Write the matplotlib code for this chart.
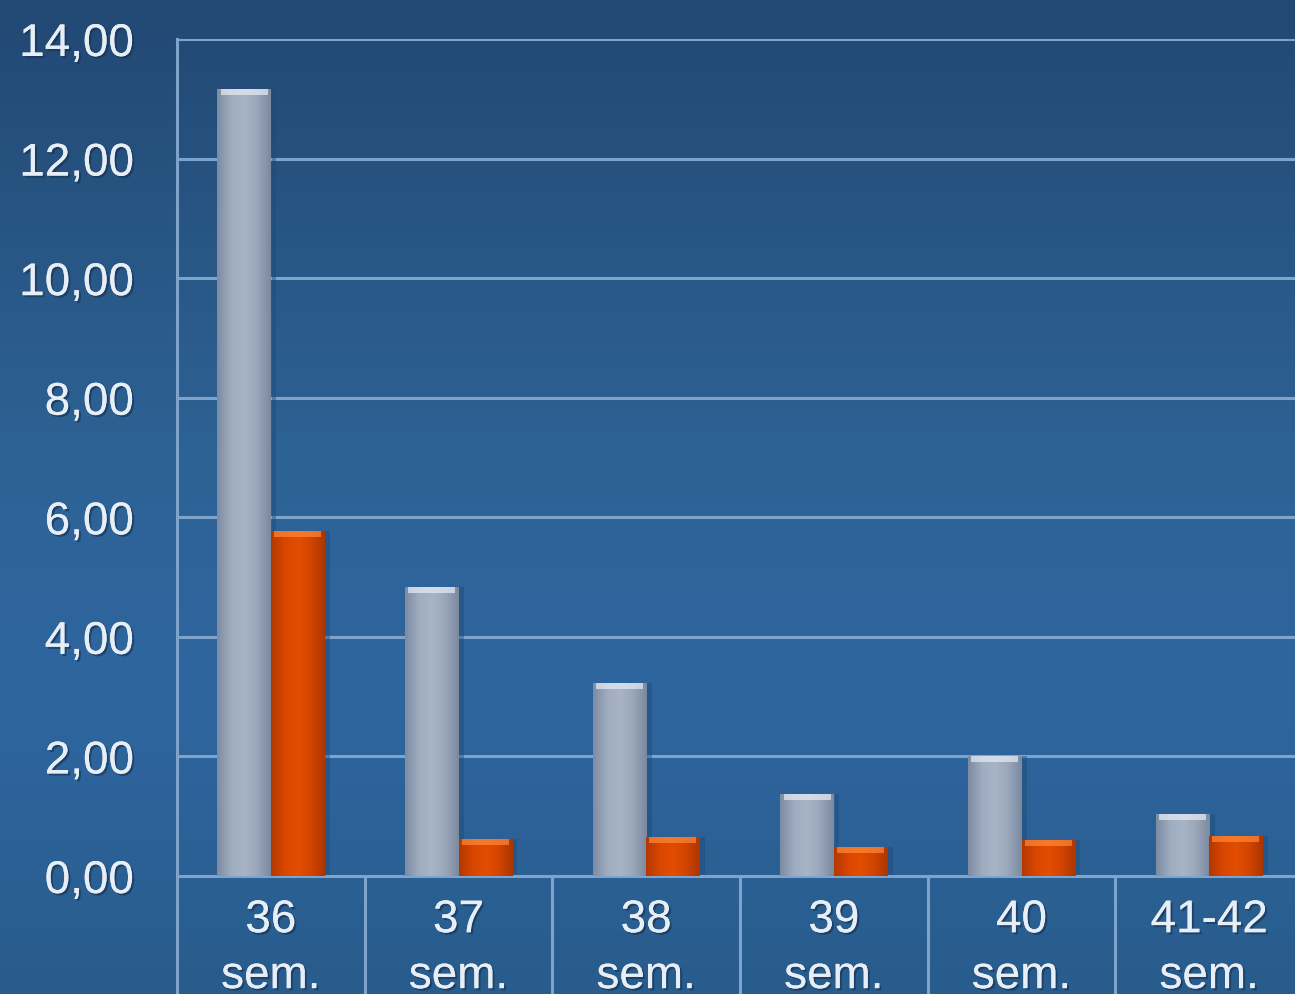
import numpy as np
import matplotlib
matplotlib.use("Agg")
import matplotlib.pyplot as plt
from matplotlib.colors import LinearSegmentedColormap
import matplotlib.patheffects as pe

# Data
categories = ["36\nsem.", "37\nsem.", "38\nsem.", "39\nsem.", "40\nsem.", "41-42\nsem."]
series_gray = [13.17, 4.83, 3.23, 1.37, 2.01, 1.04]
series_orange = [5.77, 0.62, 0.65, 0.49, 0.60, 0.67]
y_ticks = [0, 2, 4, 6, 8, 10, 12, 14]
y_tick_labels = ["0,00", "2,00", "4,00", "6,00", "8,00", "10,00", "12,00", "14,00"]

plt.rcParams['font.family'] = ['Liberation Sans', 'DejaVu Sans']

W, H = 1295, 995
fig = plt.figure(figsize=(W / 100, H / 100), dpi=100)

# Background: vertical blue gradient
bg = fig.add_axes([0, 0, 1, 1], zorder=-10)
bg_cmap = LinearSegmentedColormap.from_list(
    "bg", [(0.0, "#224873"), (0.45, "#2d6294"), (0.7, "#2f66a0"), (1.0, "#285c8c")])
grad = np.linspace(0, 1, 256).reshape(-1, 1)
bg.imshow(grad, cmap=bg_cmap, aspect="auto", extent=[0, 1, 0, 1], origin="upper")
bg.set_axis_off()

# Plot area (extends slightly past the right edge)
left_px, right_px, top_px, bottom_px = 177, 1303, 40, 877
ax = fig.add_axes([left_px / W, 1 - bottom_px / H,
                   (right_px - left_px) / W, (bottom_px - top_px) / H])
ax.patch.set_alpha(0)

n = len(categories)
x = np.arange(n)
bw = 0.285

grid_color = "#7ea4cc"
for yv in y_ticks[1:]:
    ax.axhline(yv, color=grid_color, lw=2.2, zorder=1)

gray_cmap = LinearSegmentedColormap.from_list(
    "g", ["#7d8ca3", "#9eacc0", "#a9b5c6", "#9aa7bb", "#7c8aa0"])
orange_cmap = LinearSegmentedColormap.from_list(
    "o", ["#b43800", "#d94600", "#e24e00", "#d24400", "#ac3600"])
hgrad = np.linspace(0, 1, 64).reshape(1, -1)


def gradient_bars(xs, heights, offset, cmap, top_color):
    bars = ax.bar(xs + offset, heights, width=bw, align="edge",
                  color="none", edgecolor="none", zorder=3)
    for rect in bars:
        x0, y0 = rect.get_x(), rect.get_y()
        w, h = rect.get_width(), rect.get_height()
        # soft shadow to the right
        ax.bar(x0 + w + 0.004, h, width=0.025, bottom=y0, align="edge",
               color="#1e4a78", alpha=0.45, zorder=2, edgecolor="none")
        im = ax.imshow(hgrad, cmap=cmap, aspect="auto",
                       extent=[x0, x0 + w, y0, y0 + h], zorder=3,
                       interpolation="bicubic")
        im.set_clip_path(rect)
        # bright rim at the top of the bar
        cap = min(0.1, h * 0.5)
        ax.bar(x0 + w * 0.06, cap, width=w * 0.88, bottom=y0 + h - cap,
               align="edge", color=top_color, alpha=0.7, zorder=4,
               edgecolor="none")
    return bars


gradient_bars(x, series_gray, -bw, gray_cmap, "#e6edf5")
gradient_bars(x, series_orange, 0.0, orange_cmap, "#ff8a3a")
ax.set_xlim(-0.5, n - 0.5)
ax.set_ylim(0, 14)

# Spines
for s in ["top", "right"]:
    ax.spines[s].set_visible(False)
ax.spines["left"].set_color(grid_color)
ax.spines["left"].set_linewidth(2.2)
ax.spines["bottom"].set_color(grid_color)
ax.spines["bottom"].set_linewidth(2.2)

text_color = "#e8eef6"
shadow = [pe.withSimplePatchShadow(offset=(1.5, -1.5), shadow_rgbFace="#143050", alpha=0.6),
          pe.Normal()]

ax.set_yticks(y_ticks)
ax.set_yticklabels(y_tick_labels)
ax.tick_params(axis="y", length=0, pad=31, labelsize=33, labelcolor=text_color)

ax.set_xticks(x)
ax.set_xticklabels(categories, linespacing=1.35)
ax.tick_params(axis="x", which="major", length=0, pad=16, labelsize=33,
               labelcolor=text_color)
ax.set_xticks(np.arange(-0.5, n, 1.0), minor=True)
ax.tick_params(axis="x", which="minor", length=90, width=2.2, color=grid_color,
               direction="out")

for lbl in ax.get_xticklabels() + ax.get_yticklabels():
    lbl.set_path_effects(shadow)

fig.savefig("out.png", dpi=100)
